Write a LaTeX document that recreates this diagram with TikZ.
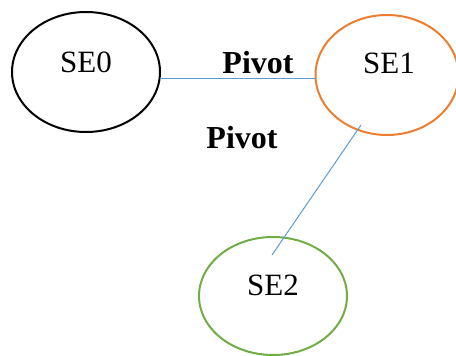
\documentclass[tikz,border=0pt]{standalone}
\usepackage{fontspec}
\setmainfont{Liberation Serif}
\usetikzlibrary{shapes.geometric,calc}
\definecolor{seorange}{HTML}{ED7D31}
\definecolor{segreen}{HTML}{70AD47}
\definecolor{seblue}{HTML}{5B9BD5}
\begin{document}
\begin{tikzpicture}[x=1pt,y=-1pt,
  seell/.style={ellipse,draw,line width=2pt,inner sep=0pt,outer sep=0pt},
  setext/.style={anchor=base,inner sep=0pt,font=\fontsize{31}{36}\selectfont},
  pivtext/.style={anchor=base,inner sep=0pt,font=\fontsize{32}{38}\selectfont\bfseries},
  link/.style={draw=seblue,line width=1pt}]
\useasboundingbox (0,0) rectangle (456,356);
\node[seell,draw=black,minimum width=148pt,minimum height=120pt] (SE0) at (86,72) {};
\node[seell,draw=seorange,minimum width=143pt,minimum height=120pt] (SE1) at (387,75) {};
\node[seell,draw=segreen,minimum width=148pt,minimum height=118pt] (SE2) at (273,296) {};
\node[setext] (t0) at (86,72) {SE0};
\node[setext] (t1) at (389,73) {SE1};
\node[setext] (t2) at (273,295) {SE2};
\node[pivtext] (p1) at (258,73) {Pivot};
\node[pivtext] (p2) at (242,148) {Pivot};
\coordinate (a) at ($(SE1.center)+(-26,50)$);
\coordinate (b) at ($(SE2.center)+(-1,-41)$);
\draw[link] (SE0.-5) -- (SE0.-5 -| SE1.west);
\draw[link] (a) -- (b);
\end{tikzpicture}
\end{document}
